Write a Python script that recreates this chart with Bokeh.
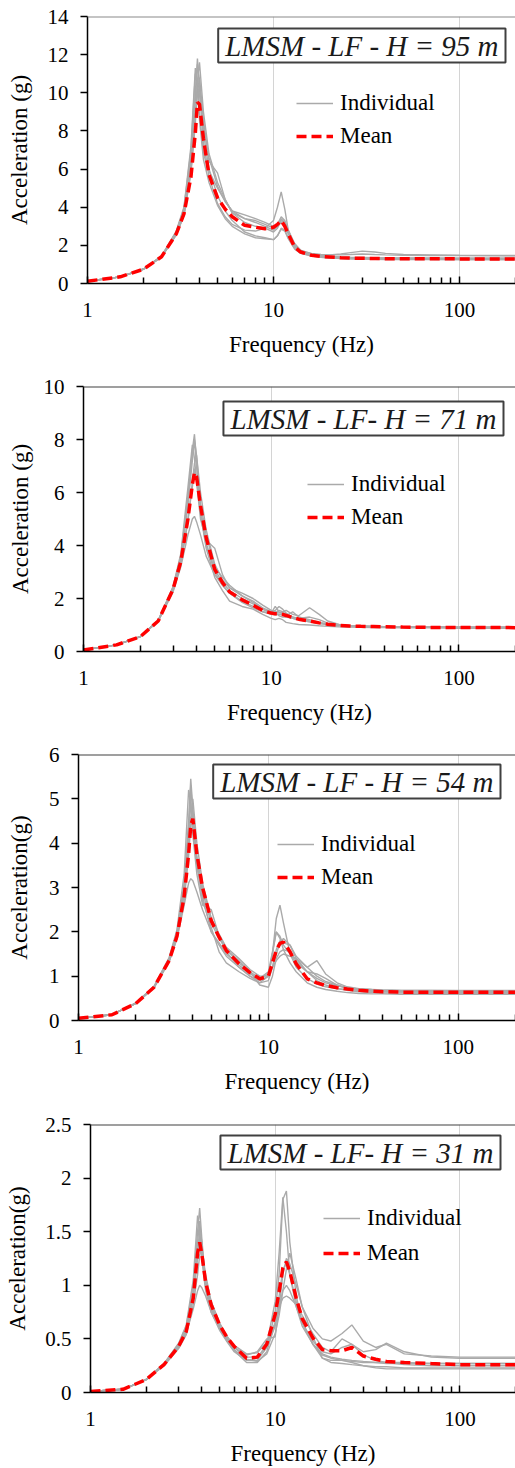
from bokeh.plotting import figure
from bokeh.models import Range1d, FixedTicker, Legend, LegendItem, Label, Span
from bokeh.layouts import column, row
from bokeh.embed import file_html
from bokeh.resources import INLINE

# ---------------- data ----------------
FREQ = [1, 1.5, 2, 2.5, 3, 3.3, 3.6, 3.8, 3.9, 4.0, 4.2, 4.5, 5, 5.5, 6, 7, 8, 9, 10,
        10.5, 11, 11.5, 12, 13, 14, 16, 18, 20, 23, 26, 30, 35, 40, 50, 70, 100, 200]

X_TICKS = [1, 10, 100]
X_TICK_LABELS = ["1", "10", "100"]
X_MINOR = [2, 3, 4, 5, 6, 7, 8, 9, 20, 30, 40, 50, 60, 70, 80, 90, 200]
X_GRID = [10, 100]
X_TITLE = "Frequency (Hz)"

TITLES = ["LMSM - LF - H = 95 m", "LMSM - LF- H = 71 m",
          "LMSM - LF - H = 54 m", "LMSM - LF- H = 31 m"]
Y_TITLES = ["Acceleration (g)", "Acceleration (g)", "Acceleration(g)", "Acceleration(g)"]
Y_MAX = [14, 10, 6, 2.5]
Y_TICKS = [[0, 2, 4, 6, 8, 10, 12, 14],
           [0, 2, 4, 6, 8, 10],
           [0, 1, 2, 3, 4, 5, 6],
           [0, 0.5, 1, 1.5, 2, 2.5]]
Y_TICK_LABELS = [["0", "2", "4", "6", "8", "10", "12", "14"],
                 ["0", "2", "4", "6", "8", "10"],
                 ["0", "1", "2", "3", "4", "5", "6"],
                 ["0", "0.5", "1", "1.5", "2", "2.5"]]
LEGEND_LABELS = ["Individual", "Mean"]

# H = 95 m
MEAN_95 = [0.12, 0.35, 0.75, 1.4, 2.6, 3.65, 5.6, 7.9, 9.5, 9.4, 7.6, 5.7, 4.5, 3.9, 3.5, 3.05, 2.95, 2.87, 2.95,
           3.1, 3.3, 3.0, 2.6, 1.9, 1.65, 1.48, 1.42, 1.39, 1.35, 1.33, 1.32, 1.31, 1.3, 1.3, 1.3, 1.29, 1.28]
IND_95 = [
    [0.12, 0.35, 0.76, 1.42, 2.7, 3.9, 6.6, 10.0, 11.8, 10.2, 7.4, 5.6, 4.2, 3.5, 3.1, 2.8, 2.75, 2.9, 3.3,
     4.0, 4.8, 3.9, 2.8, 2.0, 1.72, 1.58, 1.52, 1.5, 1.5, 1.52, 1.55, 1.52, 1.5, 1.48, 1.47, 1.46, 1.45],
    [0.12, 0.35, 0.76, 1.44, 2.75, 4.0, 7.2, 11.3, 10.6, 9.0, 6.8, 5.9, 5.0, 4.3, 3.8, 3.4, 3.2, 3.0, 2.8,
     3.0, 3.4, 3.2, 2.7, 1.95, 1.68, 1.5, 1.43, 1.4, 1.36, 1.34, 1.33, 1.32, 1.32, 1.31, 1.31, 1.3, 1.3],
    [0.12, 0.35, 0.75, 1.38, 2.55, 3.55, 5.8, 8.4, 10.0, 10.8, 8.6, 6.4, 5.8, 4.4, 3.7, 3.4, 3.3, 3.1, 2.9,
     3.0, 3.2, 3.0, 2.6, 1.95, 1.7, 1.55, 1.5, 1.5, 1.55, 1.62, 1.7, 1.65, 1.58, 1.52, 1.5, 1.48, 1.47],
    [0.12, 0.35, 0.76, 1.42, 2.65, 3.8, 6.4, 9.6, 11.5, 10.6, 7.9, 6.0, 4.6, 3.8, 3.3, 2.7, 2.5, 2.4, 2.3,
     2.5, 2.9, 2.8, 2.4, 1.85, 1.6, 1.45, 1.38, 1.35, 1.31, 1.29, 1.28, 1.27, 1.26, 1.26, 1.25, 1.25, 1.25],
    [0.12, 0.34, 0.74, 1.38, 2.55, 3.6, 5.9, 8.8, 10.3, 9.9, 8.2, 6.6, 5.1, 4.3, 3.8, 3.6, 3.4, 3.2, 3.0,
     3.1, 3.5, 3.3, 2.8, 2.1, 1.75, 1.55, 1.47, 1.42, 1.39, 1.37, 1.36, 1.35, 1.34, 1.34, 1.33, 1.33, 1.33],
    [0.12, 0.35, 0.76, 1.44, 2.7, 3.95, 7.0, 11.0, 10.4, 8.6, 6.5, 5.3, 4.1, 3.4, 3.0, 2.6, 2.4, 2.35, 2.3,
     2.5, 2.85, 2.75, 2.35, 1.8, 1.58, 1.44, 1.38, 1.35, 1.32, 1.3, 1.29, 1.28, 1.27, 1.27, 1.27, 1.26, 1.26],
    [0.12, 0.35, 0.75, 1.4, 2.6, 3.6, 6.0, 8.8, 10.6, 11.6, 9.0, 6.8, 5.3, 4.4, 3.7, 3.2, 3.0, 2.9, 2.7,
     2.9, 3.3, 3.2, 2.7, 2.0, 1.7, 1.52, 1.45, 1.42, 1.38, 1.36, 1.35, 1.34, 1.33, 1.33, 1.33, 1.33, 1.33],
]

# H = 71 m
MEAN_71 = [0.06, 0.25, 0.55, 1.15, 2.35, 3.4, 5.0, 6.3, 6.75, 6.6, 5.5, 4.3, 3.1, 2.6, 2.25, 1.95, 1.75, 1.55, 1.45,
           1.42, 1.42, 1.4, 1.36, 1.28, 1.22, 1.15, 1.08, 1.03, 0.99, 0.96, 0.95, 0.94, 0.93, 0.92, 0.91, 0.91, 0.9]
IND_71 = [
    [0.06, 0.25, 0.56, 1.17, 2.4, 3.6, 5.8, 7.6, 8.2, 7.2, 5.2, 4.0, 3.0, 2.5, 2.2, 1.9, 1.7, 1.5, 1.4,
     1.38, 1.4, 1.38, 1.32, 1.25, 1.2, 1.12, 1.06, 1.02, 0.98, 0.96, 0.95, 0.94, 0.93, 0.92, 0.92, 0.91, 0.91],
    [0.06, 0.25, 0.56, 1.18, 2.45, 3.7, 6.2, 7.8, 7.3, 6.4, 5.0, 4.2, 3.9, 2.9, 2.4, 2.1, 1.9, 1.65, 1.5,
     1.55, 1.7, 1.6, 1.45, 1.3, 1.22, 1.15, 1.08, 1.04, 1.0, 0.97, 0.96, 0.95, 0.94, 0.93, 0.93, 0.92, 0.92],
    [0.06, 0.25, 0.55, 1.14, 2.3, 3.3, 4.9, 6.4, 7.1, 7.4, 6.0, 4.6, 3.3, 2.7, 2.4, 2.2, 2.0, 1.75, 1.55,
     1.5, 1.45, 1.5, 1.55, 1.4, 1.35, 1.65, 1.4, 1.15, 1.02, 0.98, 0.96, 0.95, 0.94, 0.93, 0.92, 0.92, 0.91],
    [0.06, 0.25, 0.55, 1.15, 2.3, 3.35, 5.0, 6.2, 6.9, 6.5, 5.2, 3.9, 2.8, 2.3, 1.9, 1.7, 1.6, 1.4, 1.25,
     1.2, 1.25, 1.2, 1.1, 1.05, 1.02, 1.0, 0.97, 0.95, 0.93, 0.92, 0.91, 0.9, 0.9, 0.89, 0.89, 0.88, 0.88],
    [0.06, 0.25, 0.56, 1.16, 2.4, 3.5, 5.5, 7.2, 8.0, 7.4, 5.6, 4.4, 3.2, 2.8, 2.5, 2.1, 1.85, 1.6, 1.45,
     1.7, 1.5, 1.4, 1.35, 1.5, 1.3, 1.2, 1.1, 1.04, 1.0, 0.97, 0.96, 0.95, 0.94, 0.93, 0.93, 0.92, 0.92],
    [0.06, 0.25, 0.55, 1.14, 2.25, 3.2, 4.4, 5.0, 5.1, 4.9, 4.4, 3.6, 2.9, 2.5, 2.2, 1.85, 1.65, 1.5, 1.45,
     1.5, 1.35, 1.3, 1.3, 1.25, 1.2, 1.12, 1.06, 1.01, 0.97, 0.95, 0.94, 0.93, 0.92, 0.91, 0.91, 0.9, 0.9],
    [0.06, 0.25, 0.56, 1.17, 2.42, 3.6, 5.9, 7.5, 7.9, 7.0, 5.4, 4.1, 3.1, 2.6, 2.3, 2.0, 1.8, 1.6, 1.45,
     1.45, 1.55, 1.5, 1.4, 1.3, 1.25, 1.3, 1.2, 1.07, 1.0, 0.97, 0.95, 0.94, 0.93, 0.92, 0.92, 0.91, 0.91],
]

# H = 54 m
MEAN_54 = [0.05, 0.13, 0.38, 0.75, 1.35, 1.9, 2.8, 3.75, 4.4, 4.55, 3.75, 3.0, 2.25, 1.88, 1.58, 1.28, 1.08, 0.94, 1.0,
           1.3, 1.58, 1.74, 1.77, 1.55, 1.28, 0.94, 0.85, 0.79, 0.74, 0.71, 0.68, 0.66, 0.65, 0.64, 0.64, 0.64, 0.64]
IND_54 = [
    [0.05, 0.13, 0.39, 0.77, 1.4, 2.0, 3.1, 4.5, 5.45, 4.8, 3.6, 2.8, 2.0, 1.7, 1.45, 1.2, 1.0, 0.9, 1.0,
     1.5, 2.3, 2.6, 2.2, 1.5, 1.2, 0.95, 0.82, 0.76, 0.72, 0.7, 0.68, 0.67, 0.66, 0.66, 0.65, 0.65, 0.65],
    [0.05, 0.13, 0.39, 0.77, 1.42, 2.05, 3.3, 5.2, 4.9, 4.2, 3.3, 2.6, 2.5, 1.9, 1.6, 1.3, 1.1, 0.95, 1.1,
     1.55, 2.0, 1.9, 1.7, 1.5, 1.3, 1.1, 0.95, 0.85, 0.78, 0.74, 0.71, 0.7, 0.69, 0.68, 0.68, 0.67, 0.67],
    [0.05, 0.13, 0.38, 0.74, 1.32, 1.85, 2.6, 3.1, 3.2, 3.15, 2.9, 2.5, 2.0, 1.75, 1.5, 1.25, 1.05, 0.95, 1.05,
     1.2, 1.35, 1.45, 1.5, 1.45, 1.4, 1.2, 1.0, 0.88, 0.8, 0.74, 0.7, 0.68, 0.67, 0.66, 0.65, 0.65, 0.65],
    [0.05, 0.13, 0.38, 0.74, 1.33, 1.85, 2.7, 3.7, 4.4, 5.0, 4.0, 3.1, 2.3, 1.9, 1.55, 1.2, 1.0, 0.85, 0.9,
     1.2, 1.6, 1.8, 1.75, 1.7, 1.4, 1.1, 0.9, 0.8, 0.72, 0.68, 0.65, 0.63, 0.62, 0.62, 0.61, 0.61, 0.61],
    [0.05, 0.13, 0.38, 0.75, 1.35, 1.9, 2.85, 4.0, 4.6, 4.3, 3.5, 2.9, 2.2, 1.85, 1.6, 1.35, 1.1, 0.8, 0.75,
     1.0, 1.4, 1.55, 1.6, 1.55, 1.35, 1.1, 1.05, 0.95, 0.8, 0.72, 0.68, 0.66, 0.65, 0.64, 0.64, 0.63, 0.63],
    [0.05, 0.13, 0.39, 0.76, 1.38, 1.95, 3.0, 4.3, 5.3, 4.6, 3.5, 2.7, 2.1, 1.55, 1.3, 1.1, 0.95, 0.85, 1.0,
     1.5, 2.0, 1.85, 1.6, 1.3, 1.1, 0.85, 0.75, 0.7, 0.66, 0.63, 0.61, 0.6, 0.6, 0.59, 0.59, 0.59, 0.59],
    [0.05, 0.13, 0.38, 0.75, 1.36, 1.92, 2.9, 4.1, 4.9, 4.5, 3.7, 3.0, 2.3, 1.95, 1.65, 1.4, 1.15, 1.0, 1.0,
     1.2, 1.5, 1.75, 1.85, 1.7, 1.45, 1.2, 1.35, 1.05, 0.85, 0.76, 0.72, 0.7, 0.69, 0.68, 0.68, 0.68, 0.68],
]

# H = 31 m
MEAN_31 = [0.01, 0.03, 0.12, 0.26, 0.43, 0.57, 0.88, 1.3, 1.4, 1.3, 1.03, 0.82, 0.63, 0.51, 0.43, 0.32, 0.33, 0.45, 0.73,
           0.94, 1.16, 1.22, 1.13, 0.88, 0.69, 0.51, 0.40, 0.39, 0.39, 0.42, 0.34, 0.31, 0.29, 0.28, 0.27, 0.26, 0.26]
IND_31 = [
    [0.01, 0.03, 0.12, 0.27, 0.45, 0.62, 1.0, 1.5, 1.72, 1.45, 1.0, 0.78, 0.6, 0.48, 0.4, 0.3, 0.3, 0.42, 0.75,
     1.1, 1.8, 1.88, 1.4, 0.9, 0.65, 0.45, 0.35, 0.32, 0.3, 0.29, 0.28, 0.28, 0.27, 0.27, 0.27, 0.27, 0.27],
    [0.01, 0.03, 0.12, 0.27, 0.46, 0.63, 1.05, 1.65, 1.5, 1.25, 0.95, 0.75, 0.58, 0.47, 0.38, 0.3, 0.32, 0.45, 0.85,
     1.3, 1.82, 1.5, 1.1, 0.8, 0.62, 0.45, 0.36, 0.33, 0.31, 0.3, 0.29, 0.28, 0.28, 0.28, 0.27, 0.27, 0.27],
    [0.01, 0.03, 0.12, 0.26, 0.42, 0.55, 0.78, 0.95, 1.0, 0.98, 0.9, 0.75, 0.6, 0.5, 0.42, 0.35, 0.38, 0.5, 0.52,
     0.8, 1.1, 1.25, 1.2, 1.0, 0.8, 0.6, 0.5, 0.48, 0.55, 0.63, 0.48, 0.42, 0.45, 0.36, 0.34, 0.33, 0.33],
    [0.01, 0.03, 0.12, 0.26, 0.43, 0.57, 0.9, 1.3, 1.5, 1.3, 1.0, 0.8, 0.62, 0.5, 0.42, 0.33, 0.33, 0.42, 0.62,
     0.8, 0.95, 1.0, 0.95, 0.8, 0.65, 0.48, 0.38, 0.36, 0.42, 0.45, 0.38, 0.4, 0.46, 0.38, 0.33, 0.32, 0.32],
    [0.01, 0.03, 0.12, 0.25, 0.41, 0.54, 0.82, 1.1, 1.28, 1.35, 1.1, 0.85, 0.65, 0.52, 0.43, 0.31, 0.29, 0.36, 0.55,
     0.72, 0.95, 1.15, 1.3, 1.05, 0.8, 0.52, 0.32, 0.28, 0.27, 0.26, 0.25, 0.24, 0.24, 0.23, 0.23, 0.23, 0.23],
    [0.01, 0.03, 0.12, 0.26, 0.44, 0.59, 0.95, 1.4, 1.6, 1.4, 1.05, 0.82, 0.64, 0.52, 0.44, 0.36, 0.37, 0.47, 0.65,
     0.8, 0.88, 0.9, 0.88, 0.82, 0.72, 0.55, 0.42, 0.38, 0.5, 0.45, 0.35, 0.3, 0.28, 0.26, 0.25, 0.25, 0.25],
    [0.01, 0.03, 0.12, 0.26, 0.43, 0.56, 0.88, 1.25, 1.45, 1.3, 1.02, 0.8, 0.6, 0.48, 0.39, 0.28, 0.28, 0.38, 0.65,
     0.9, 1.15, 1.2, 1.1, 0.85, 0.66, 0.45, 0.32, 0.3, 0.3, 0.28, 0.25, 0.23, 0.22, 0.22, 0.22, 0.22, 0.22],
]

MEANS = [MEAN_95, MEAN_71, MEAN_54, MEAN_31]
INDIVIDUALS = [IND_95, IND_71, IND_54, IND_31]

# ---------------- layout / style ----------------
X_END = 200
LAYOUT = [
    dict(h=375, top=16, bottom=92, left=87, ylab_sd=13, leg=(209, 134), leg_sp=7, box=(418, 255), topline="#8a8a8a"),
    dict(h=365, top=11, bottom=89, left=83, ylab_sd=8, leg=(224, 121), leg_sp=7, box=(420, 250), topline="#404040"),
    dict(h=368, top=14, bottom=88, left=78, ylab_sd=14, leg=(199, 130), leg_sp=7, box=(422, 256), topline="#404040"),
    dict(h=360, top=16, bottom=76, left=90, ylab_sd=12, leg=(233, 126), leg_sp=9, box=(410, 257), topline="#404040"),
]
FONT = "Liberation Serif"
GRAY = "#aaaaaa"
RED = "#ff0000"


def make_panel(i):
    L = LAYOUT[i]
    ymax = Y_MAX[i]
    p = figure(width=515, height=L["h"], x_axis_type="log",
               x_range=Range1d(1, X_END), y_range=Range1d(0, ymax),
               output_backend="svg", toolbar_location=None,
               min_border_left=L["left"], min_border_right=0,
               min_border_top=L["top"], min_border_bottom=L["bottom"])
    p.outline_line_color = None
    p.background_fill_color = "white"
    p.border_fill_color = "white"

    # grid
    p.xgrid.ticker = FixedTicker(ticks=X_GRID)
    p.xgrid.grid_line_color = "#d4d4d4"
    p.xgrid.grid_line_width = 1
    p.ygrid.grid_line_color = None

    # x axis
    xa = p.xaxis[0]
    xa.ticker = FixedTicker(ticks=X_TICKS, minor_ticks=X_MINOR)
    xa.major_label_overrides = {t: s for t, s in zip(X_TICKS, X_TICK_LABELS)}
    xa.axis_line_color = "black"
    xa.axis_line_width = 1.5
    xa.major_tick_in = 7
    xa.major_tick_out = 0
    xa.minor_tick_in = 6
    xa.minor_tick_out = 0
    xa.major_tick_line_color = "black"
    xa.minor_tick_line_color = "black"
    xa.major_tick_line_width = 1.5
    xa.minor_tick_line_width = 1.5
    xa.major_label_text_font = FONT
    xa.major_label_text_font_size = "21px"
    xa.major_label_text_color = "black"
    xa.major_label_standoff = 19
    xa.axis_label = X_TITLE
    xa.axis_label_text_font = FONT
    xa.axis_label_text_font_size = "23px"
    xa.axis_label_text_font_style = "normal"
    xa.axis_label_text_color = "black"
    xa.axis_label_standoff = 12

    # y axis
    ya = p.yaxis[0]
    ya.ticker = FixedTicker(ticks=Y_TICKS[i])
    ya.major_label_overrides = {t: s for t, s in zip(Y_TICKS[i], Y_TICK_LABELS[i])}
    ya.axis_line_color = "black"
    ya.axis_line_width = 1.5
    ya.major_tick_in = 0
    ya.major_tick_out = 7
    ya.major_tick_line_color = "black"
    ya.major_tick_line_width = 1.5
    ya.minor_tick_line_color = None
    ya.major_label_text_font = FONT
    ya.major_label_text_font_size = "21px"
    ya.major_label_text_color = "black"
    ya.major_label_standoff = 12
    ya.axis_label = Y_TITLES[i]
    ya.axis_label_text_font = FONT
    ya.axis_label_text_font_size = "23px"
    ya.axis_label_text_font_style = "normal"
    ya.axis_label_text_color = "black"
    ya.axis_label_standoff = L["ylab_sd"]

    # top border line of plot area
    p.add_layout(Span(location=ymax, dimension="width", line_color=L["topline"], line_width=2))

    inds = INDIVIDUALS[i]
    r_ind = p.multi_line(xs=[FREQ] * len(inds), ys=inds, line_color=GRAY, line_width=1.4)
    r_mean = p.line(FREQ, MEANS[i], line_color=RED, line_width=3.5, line_dash="10 5")

    legend = Legend(items=[LegendItem(label=LEGEND_LABELS[0], renderers=[r_ind]),
                           LegendItem(label=LEGEND_LABELS[1], renderers=[r_mean])],
                    location=L["leg"], border_line_color=None, background_fill_alpha=0,
                    padding=0, margin=0, spacing=L["leg_sp"], glyph_width=37, glyph_height=20,
                    label_height=20, label_standoff=7, label_text_font=FONT,
                    label_text_font_size="23px", label_text_color="black")
    p.add_layout(legend)

    lab = Label(x=L["box"][0], y=L["box"][1], x_units="screen", y_units="screen",
                text=TITLES[i], text_align="right", text_baseline="top",
                text_font=FONT, text_font_style="italic", text_font_size="29px",
                text_color="#1a1a1a", border_line_color="#404040", border_line_width=2,
                background_fill_color="white", padding=1)
    try:
        lab.padding = dict(x=7, y=1)
    except Exception:
        pass
    p.add_layout(lab)
    return p


figs = [make_panel(i) for i in range(4)]
# each plot in its own row so that the column does not line up their frames
layout = column(*[row(f) for f in figs], spacing=0)
open("out.html", "w").write(file_html(layout, INLINE))
